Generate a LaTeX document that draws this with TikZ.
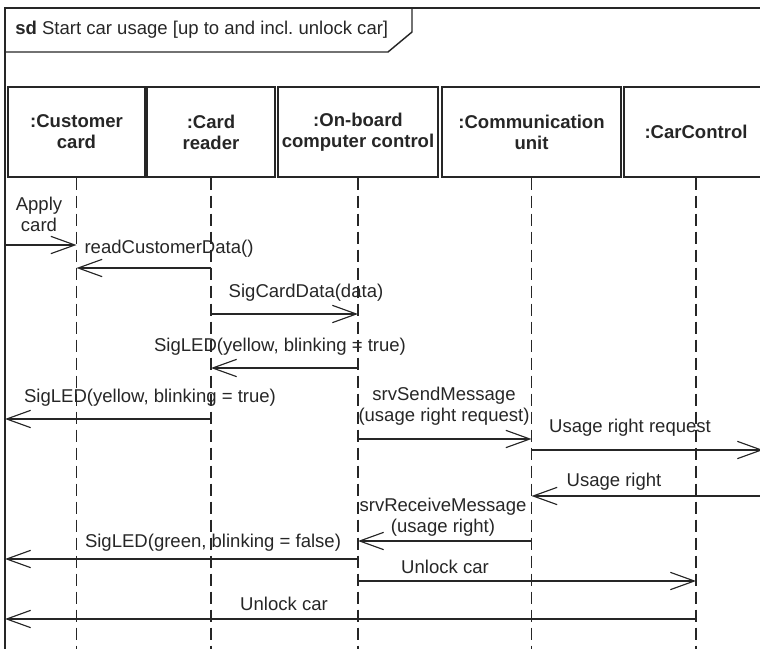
\documentclass[tikz,border=0pt]{standalone}
\usepackage{fontspec}
\setmainfont{Liberation Sans}
\usetikzlibrary{arrows.meta}
\definecolor{ink}{HTML}{262626}

\begin{document}
\begin{tikzpicture}[
  x=0.75pt,y=-0.75pt,
  frame/.style={draw=ink, line width=1.1pt},
  head/.style={draw=ink, line width=1pt, align=center, minimum height=67.5pt, inner sep=2pt, font=\fontsize{13.9}{15.75}\selectfont\bfseries, text=ink},
  life/.style={draw=ink, line width=1.3pt, dash pattern=on 9pt off 4.5pt},
  msg/.style={draw=ink, line width=0.85pt, -{Straight Barb[length=18pt,width=13pt]}},
  lbl/.style={font=\fontsize{13.9}{15.75}\selectfont, inner sep=0pt, align=center, text=ink}
]
\useasboundingbox (0,0) rectangle (760,649);
% frame and its name tag
\draw[frame] (775,8) -- (5,8) -- (5,660);
\draw[frame] (5,52) -- (388,52) -- (412,32) -- (412,8);
\node[lbl, anchor=west] (title) at (15,30) {\textbf{sd} Start car usage [up to and incl.\ unlock car]};
% lifeline heads
\node[head, minimum width=102.75pt] (custcard) at (76.5,132) {:Customer\\card};
\node[head, minimum width=96pt] (cardreader) at (211,132) {:Card\\reader};
\node[head, minimum width=120pt] (obc) at (358,132) {:On-board\\computer control};
\node[head, minimum width=134.25pt] (comm) at (531.5,132) {:Communication\\unit};
\node[head, minimum width=108pt] (carctrl) at (696,132) {:CarControl};
\coordinate (bottom) at (0,652);
\draw[life] (custcard.south) -- (custcard.south |- bottom);
\draw[life] (cardreader.south) -- (cardreader.south |- bottom);
\draw[life] (obc.south) -- (obc.south |- bottom);
\draw[life] (comm.south) -- (comm.south |- bottom);
\draw[life] (carctrl.south) -- (carctrl.south |- bottom);
% message levels (on the frame edges)
\coordinate (m1) at (5,245);
\coordinate (m2) at (5,268);
\coordinate (m3) at (5,314);
\coordinate (m4) at (5,368);
\coordinate (m5) at (5,419);
\coordinate (m6) at (5,439);
\coordinate (m7) at (763,450);
\coordinate (m8) at (763,496);
\coordinate (m9) at (5,541);
\coordinate (m10) at (5,559);
\coordinate (m11) at (5,581);
\coordinate (m12) at (5,619);
% messages
\draw[msg] (m1) -- (custcard |- m1);
\draw[msg] (cardreader |- m2) -- (custcard |- m2);
\draw[msg] (cardreader |- m3) -- (obc |- m3);
\draw[msg] (obc |- m4) -- (cardreader |- m4);
\draw[msg] (cardreader |- m5) -- (m5);
\draw[msg] (obc |- m6) -- (comm |- m6);
\draw[msg] (comm |- m7) -- (m7);
\draw[msg] (m8) -- (comm |- m8);
\draw[msg] (comm |- m9) -- (obc |- m9);
\draw[msg] (obc |- m10) -- (m10);
\draw[msg] (obc |- m11) -- (carctrl |- m11);
\draw[msg] (carctrl |- m12) -- (m12);
% message labels
\node[lbl] (l1) at (39,214) {Apply\\card};
\node[lbl] (l2) at (169,249) {readCustomerData()};
\node[lbl] (l3) at (306,293) {SigCardData(data)};
\node[lbl] (l4) at (280,347) {SigLED(yellow, blinking = true)};
\node[lbl] (l5) at (150,398) {SigLED(yellow, blinking = true)};
\node[lbl] (l6) at (444,406) {srvSendMessage\\(usage right request)};
\node[lbl] (l7) at (630,428) {Usage right request};
\node[lbl] (l8) at (614,482) {Usage right};
\node[lbl] (l9) at (443,517) {srvReceiveMessage\\(usage right)};
\node[lbl] (l10) at (213,543) {SigLED(green, blinking = false)};
\node[lbl] (l11) at (445,567) {Unlock car};
\node[lbl] (l12) at (284,604) {Unlock car};
\end{tikzpicture}
\end{document}
